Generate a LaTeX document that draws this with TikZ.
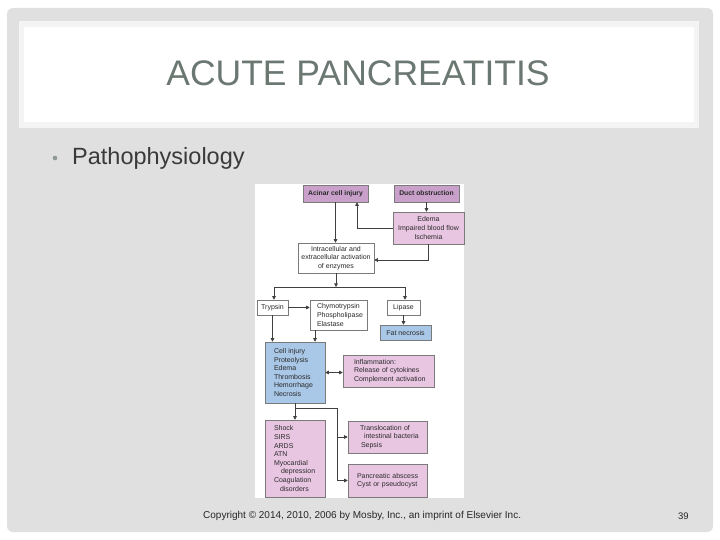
\documentclass[tikz,border=0pt]{standalone}
\usepackage{fontspec}
\setmainfont{Liberation Sans}
\usetikzlibrary{arrows.meta}
\definecolor{framegray}{HTML}{E0E0E0}
\definecolor{titlering}{HTML}{F4F4F4}
\definecolor{titletext}{HTML}{6B7771}
\definecolor{bodytext}{HTML}{3A3A3A}
\definecolor{bulletc}{HTML}{8C9A93}
\definecolor{darkpurple}{HTML}{C8A0CA}
\definecolor{lightpink}{HTML}{E8C6E2}
\definecolor{lightblue}{HTML}{A9C7E6}
\definecolor{boxline}{HTML}{7A7A7A}
\definecolor{linec}{HTML}{404040}
\definecolor{flowtext}{HTML}{2A2A2A}
\tikzset{
  fbox/.style={draw=boxline, line width=0.5pt, inner sep=0pt, text=flowtext,
    font=\fontsize{7}{8.6}\selectfont, align=center},
  darkbox/.style={fbox, fill=darkpurple, font=\fontsize{6.8}{8}\bfseries},
  pinkbox/.style={fbox, fill=lightpink},
  bluebox/.style={fbox, fill=lightblue},
  whitebox/.style={fbox, fill=white},
  leftbox/.style={align=left, inner xsep=0pt},
  conn/.style={draw=linec, line width=0.7pt, -{Triangle[length=3.6pt,width=3.6pt]}},
  dconn/.style={draw=linec, line width=0.7pt, {Triangle[length=3.6pt,width=3.6pt]}-{Triangle[length=3.6pt,width=3.6pt]}},
  plain/.style={draw=linec, line width=0.7pt}
}
\begin{document}
\begin{tikzpicture}[x=1pt,y=-1pt]
\useasboundingbox (0,0) rectangle (720,540);
\fill[white] (0,0) rectangle (720,540);
\fill[framegray, rounded corners=6pt] (7,8) rectangle (713,532);
\fill[titlering] (19,21) rectangle (699,128);
\fill[white] (24,27) rectangle (694,122);
\node[text=titletext, font=\fontsize{35.5}{40}\selectfont, inner sep=0pt] (title) at (358,73) {ACUTE PANCREATITIS};
\fill[bulletc] (55,158) circle[radius=2.3pt];
\node[anchor=base west, inner sep=0pt, text=bodytext, font=\fontsize{23.5}{28}\selectfont] (sub) at (72,165) {Pathophysiology};
\node[anchor=base west, inner sep=0pt, text=black!85, font=\fontsize{10}{12}\selectfont] (copy) at (203,518) {Copyright © 2014, 2010, 2006 by Mosby, Inc., an imprint of Elsevier Inc.};
\node[anchor=base west, inner sep=0pt, text=black!85, font=\fontsize{9.5}{11}\selectfont] (pnum) at (678,519) {39};
% figure background
\fill[white] (255,184) rectangle (464,498);
% boxes
\node[darkbox, minimum width=65pt, minimum height=17pt] (acinar) at (335.5,193.5) {Acinar cell injury};
\node[darkbox, minimum width=65pt, minimum height=17pt] (duct) at (426.5,193.5) {Duct obstruction};
\node[pinkbox, minimum width=71pt, minimum height=32pt] (edema) at (428.5,228) {Edema\\Impaired blood flow\\Ischemia};
\node[whitebox, minimum width=76pt, minimum height=30pt] (intra) at (336,258) {Intracellular and\\extracellular activation\\of enzymes};
\node[whitebox, minimum width=31pt, minimum height=15pt] (trypsin) at (272.5,307.5) {Trypsin};
\node[whitebox, leftbox, text width=57pt, minimum height=30pt] (chymo) at (338.5,315) {\hspace*{7pt}Chymotrypsin\\\hspace*{7pt}Phospholipase\\\hspace*{7pt}Elastase};
\node[whitebox, minimum width=33pt, minimum height=15pt] (lipase) at (403.5,307.5) {Lipase};
\node[bluebox, minimum width=51pt, minimum height=15pt] (fat) at (405.5,332.5) {Fat necrosis};
\node[bluebox, leftbox, text width=60pt, minimum height=61pt] (cell) at (295,372.5) {\hspace*{9pt}Cell injury\\\hspace*{9pt}Proteolysis\\\hspace*{9pt}Edema\\\hspace*{9pt}Thrombosis\\\hspace*{9pt}Hemorrhage\\\hspace*{9pt}Necrosis};
\node[pinkbox, leftbox, text width=91pt, minimum height=32pt] (inflam) at (388.5,371) {\hspace*{11pt}Inflammation:\\\hspace*{11pt}Release of cytokines\\\hspace*{11pt}Complement activation};
\node[pinkbox, leftbox, text width=60pt, minimum height=77pt] (shock) at (295,458.5) {\hspace*{9pt}Shock\\\hspace*{9pt}SIRS\\\hspace*{9pt}ARDS\\\hspace*{9pt}ATN\\\hspace*{9pt}Myocardial\\\hspace*{16pt}depression\\\hspace*{9pt}Coagulation\\\hspace*{15pt}disorders};
\node[pinkbox, leftbox, text width=79pt, minimum height=32pt] (transl) at (387.5,437) {\hspace*{12pt}Translocation of\\\hspace*{16pt}intestinal bacteria\\\hspace*{13pt}Sepsis};
\node[pinkbox, leftbox, text width=79pt, minimum height=33pt] (pancr) at (387.5,480.5) {\hspace*{9pt}Pancreatic abscess\\\hspace*{9pt}Cyst or pseudocyst};
% connectors
\draw[conn] (acinar.south) -- (acinar.south |- intra.north);
\draw[conn] (duct.south) -- (duct.south |- edema.north);
\coordinate (e1) at (357,228);
\draw[conn] (edema.west) -- (e1) -- (e1 |- acinar.south);
\coordinate (e2) at (428,260);
\draw[conn] (edema.south -| e2) -- (e2) -- (e2 -| intra.east);
\coordinate (br) at (336,287);
\coordinate (bl) at (274,287);
\coordinate (brr) at (405,287);
\draw[conn] (intra.south) -- (br);
\draw[plain] (bl) -- (brr);
\draw[conn] (bl) -- (bl |- trypsin.north);
\draw[conn] (brr) -- (brr |- lipase.north);
\draw[conn] (trypsin.east) -- (trypsin.east -| chymo.west);
\draw[conn] (trypsin.south) -- (trypsin.south |- cell.north);
\coordinate (c1) at (315,330);
\draw[conn] (c1) -- (c1 |- cell.north);
\draw[conn] (lipase.south) -- (lipase.south |- fat.north);
\draw[dconn] (cell.east) -- (cell.east -| inflam.west);
\coordinate (s1) at (295,408);
\coordinate (s2) at (337,408);
\draw[conn] (cell.south) -- (shock.north);
\draw[plain] (s1) -- (s2) -- (s2 |- pancr.west);
\draw[conn] (s2 |- transl.west) -- (transl.west);
\draw[conn] (s2 |- pancr.west) -- (pancr.west);
\end{tikzpicture}
\end{document}
